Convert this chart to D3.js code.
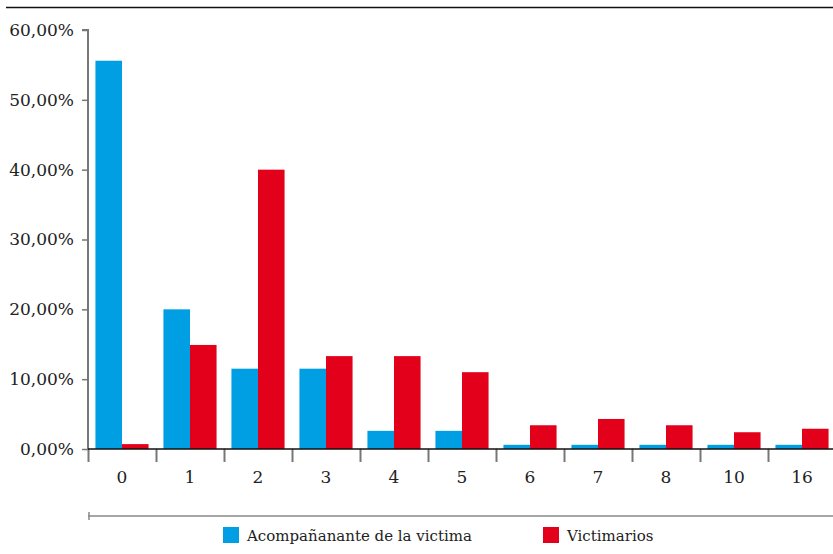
<!DOCTYPE html>
<html>
<head>
<meta charset="utf-8">
<script src="https://cdn.jsdelivr.net/npm/d3@7"></script>
<style>
  body { margin: 0; background: #fff; }
</style>
</head>
<body>
<svg id="chart" width="833" height="554"></svg>
<script>
(function(d3) {
	'use strict';

	var categories = ['0', '1', '2', '3', '4', '5', '6', '7', '8', '10', '16'];
	var acompananteValues = [55.6, 20.0, 11.5, 11.5, 2.6, 2.6, 0.6, 0.6, 0.6, 0.6, 0.6];
	var victimariosValues = [0.7, 14.9, 40.0, 13.3, 13.3, 11.0, 3.4, 4.3, 3.4, 2.4, 2.9];
	var seriesNames = ['Acompañanante de la victima', 'Victimarios'];
	var seriesColors = ['#009fe3', '#e2001a'];
	var yTicks = [0, 10, 20, 30, 40, 50, 60];

	var FONT = "'DejaVu Serif', serif";
	var svg = d3.select('#chart').attr('font-family', FONT);
	var left = 88, right = 836, top = 30, bottom = 449;

	var x = d3.scaleBand().domain(categories).range([left, right]).paddingInner(0).paddingOuter(0);
	var sub = d3.scaleBand().domain([0, 1]).range([0, x.bandwidth()]).paddingOuter(0.28).paddingInner(0);
	var y = d3.scaleLinear().domain([0, 60]).range([bottom, top]);

	// top rule
	svg.append('line').attr('x1', 6).attr('x2', 833).attr('y1', 7.5).attr('y2', 7.5)
		.attr('stroke', '#111').attr('stroke-width', 1.5);

	/** bars */
	var rows = categories.map(function(c, i) {
		return { cat: c, values: [acompananteValues[i], victimariosValues[i]] };
	});
	var groups = svg.append('g').selectAll('g').data(rows).enter().append('g')
		.attr('transform', function(d) { return 'translate(' + x(d.cat) + ',0)'; });
	groups.selectAll('rect').data(function(d) { return d.values; }).enter().append('rect')
		.attr('x', function(v, i) { return sub(i); })
		.attr('width', sub.bandwidth())
		.attr('y', function(v) { return y(v); })
		.attr('height', function(v) { return y(0) - y(v); })
		.attr('fill', function(v, i) { return seriesColors[i]; });

	/** y axis */
	var yAxis = svg.append('g').attr('transform', 'translate(' + left + ',0)')
		.call(d3.axisLeft(y).tickValues(yTicks).tickSize(6).tickPadding(8)
			.tickFormat(function(v) { return d3.format('.2f')(v).replace('.', ',') + '%'; }));
	yAxis.attr('font-family', FONT);
	yAxis.select('.domain').attr('stroke', '#777').attr('stroke-width', 2).attr('d', 'M-6,' + top + 'H0V' + bottom);
	yAxis.selectAll('.tick line').attr('stroke', '#777').attr('stroke-width', 1.5);
	yAxis.selectAll('.tick text').attr('font-family', FONT).style('font-size', '17px').attr('fill', '#222');

	/** x axis */
	var xAxis = svg.append('g').attr('transform', 'translate(0,' + bottom + ')')
		.call(d3.axisBottom(x).tickSize(0).tickPadding(22));
	xAxis.attr('font-family', FONT);
	xAxis.select('.domain').remove();
	xAxis.selectAll('.tick text').attr('font-family', FONT).style('font-size', '17px').attr('fill', '#222');
	var sepX = categories.map(function(c) { return x(c); });
	xAxis.selectAll('line.sep').data(sepX).enter().append('line').attr('class', 'sep')
		.attr('x1', function(d) { return d + 0.5; }).attr('x2', function(d) { return d + 0.5; })
		.attr('y1', 0).attr('y2', 13).attr('stroke', '#777').attr('stroke-width', 2);
	svg.append('line').attr('x1', left).attr('x2', 833).attr('y1', bottom).attr('y2', bottom)
		.attr('stroke', '#111').attr('stroke-width', 1.5);

	// lower rule
	svg.append('line').attr('x1', left).attr('x2', 833).attr('y1', 516).attr('y2', 516)
		.attr('stroke', '#888').attr('stroke-width', 1.5);
	svg.append('line').attr('x1', left + 1).attr('x2', left + 1).attr('y1', 512).attr('y2', 520)
		.attr('stroke', '#888').attr('stroke-width', 1.5);

	/** legend */
	var legendX = [223, 543];
	var legend = svg.append('g').selectAll('g').data(seriesNames).enter().append('g')
		.attr('transform', function(d, i) { return 'translate(' + legendX[i] + ',527)'; });
	legend.append('rect').attr('width', 16).attr('height', 16)
		.attr('fill', function(d, i) { return seriesColors[i]; });
	legend.append('text').attr('x', 24).attr('y', 14).attr('font-family', FONT).attr('fill', '#222')
		.style('font-size', '15px').text(function(d) { return d; });
})(d3);
</script>
</body>
</html>
